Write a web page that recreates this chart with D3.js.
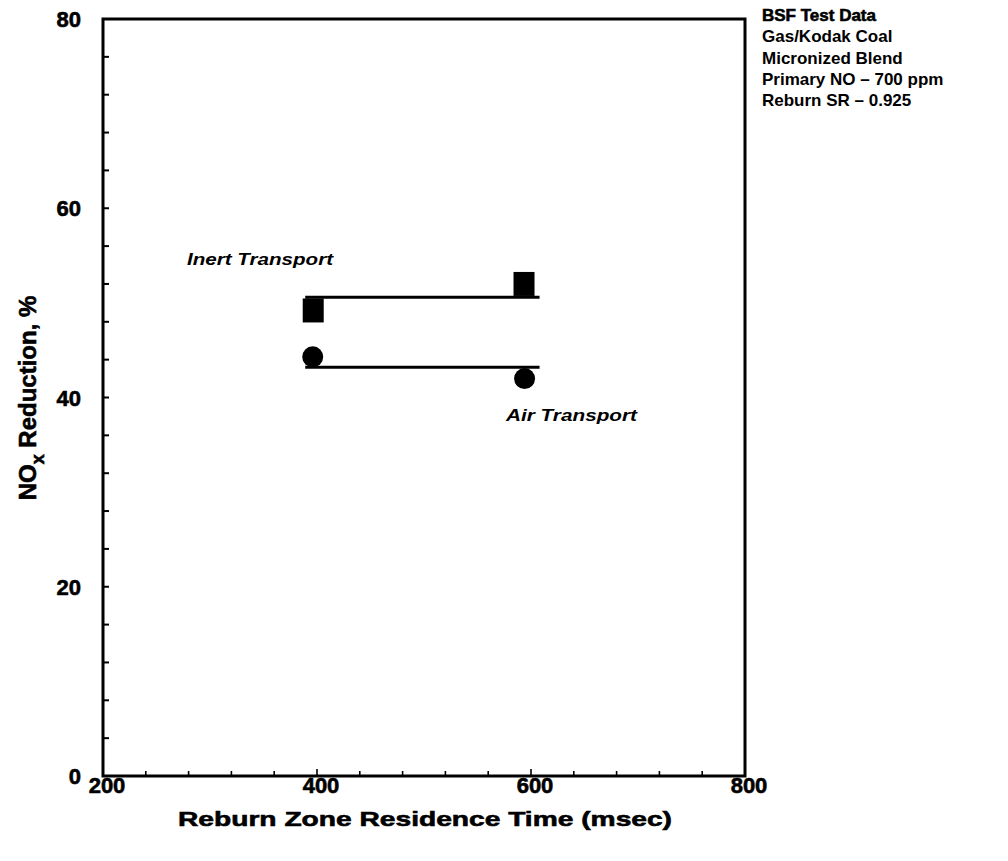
<!DOCTYPE html>
<html>
<head>
<meta charset="utf-8">
<script src="https://cdn.jsdelivr.net/npm/d3@7"></script>
<style>
  html, body { margin: 0; padding: 0; background: #fff; }
  svg text { font-family: "Liberation Sans", Arial, Helvetica, sans-serif; fill: #000; }
</style>
</head>
<body>
<svg id="chart" width="1008" height="861"></svg>
<script>
// Reburn residence time (msec) vs NOx reduction (%)
const inertTime = [396, 593];
const inertReduction = [49.2, 52.0];
const inertFit = [50.6, 50.6];
const airTime = [396, 594];
const airReduction = [44.3, 42.0];
const airFit = [43.2, 43.2];
const fitTime = [389, 608];

const xTicks = [200, 400, 600, 800];
const yTicks = [0, 20, 40, 60, 80];
const notes = ["BSF Test Data", "Gas/Kodak Coal", "Micronized Blend", "Primary NO \u2013 700 ppm", "Reburn SR \u2013 0.925"];

const svg = d3.select("#chart");
const plotLeft = 103, plotRight = 745, plotTop = 19, plotBottom = 776;

const x = d3.scaleLinear().domain([200, 800]).range([plotLeft, plotRight]);
const y = d3.scaleLinear().domain([0, 80]).range([plotBottom, plotTop]);

// minor ticks
const g = svg.append("g");
g.selectAll(".ytick").data(d3.range(4, 80, 4)).join("line")
  .attr("x1", plotLeft).attr("x2", plotLeft + 6)
  .attr("y1", d => y(d)).attr("y2", d => y(d))
  .attr("stroke", "#000").attr("stroke-width", 2);
g.selectAll(".xtick").data(d3.range(240, 800, 40)).join("line")
  .attr("x1", d => x(d)).attr("x2", d => x(d))
  .attr("y1", plotBottom).attr("y2", d => plotBottom - (d % 200 === 0 ? 7 : 5))
  .attr("stroke", "#000").attr("stroke-width", 1.6);

// frame
svg.append("rect")
  .attr("x", plotLeft).attr("y", plotTop)
  .attr("width", plotRight - plotLeft).attr("height", plotBottom - plotTop)
  .attr("fill", "none").attr("stroke", "#000").attr("stroke-width", 3);

// heavy text helper
function heavy(sel) {
  return sel.attr("font-weight", "bold").attr("stroke", "#000").attr("stroke-width", 0.6);
}

// tick labels
heavy(svg.selectAll(".yl").data(yTicks).join("text"))
  .attr("x", 81).attr("y", d => y(d) + 8)
  .attr("text-anchor", "end")
  .attr("font-size", 22)
  .text(d => d);
heavy(svg.selectAll(".xl").data(xTicks).join("text"))
  .attr("x", d => x(d) + 4).attr("y", 793)
  .attr("text-anchor", "middle")
  .attr("font-size", 22)
  .text(d => d);

// axis titles
heavy(svg.append("text"))
  .attr("x", 178).attr("y", 826)
  .attr("font-size", 21)
  .attr("textLength", 494).attr("lengthAdjust", "spacingAndGlyphs")
  .text("Reburn Zone Residence Time (msec)");

const yl = heavy(svg.append("text"))
  .attr("transform", "translate(36,398) rotate(-90)")
  .attr("text-anchor", "middle")
  .attr("font-size", 24);
yl.append("tspan").text("NO");
yl.append("tspan").attr("dy", 8).attr("font-size", 18).text("x");
yl.append("tspan").attr("dy", -8).text(" Reduction, %");

// fitted lines
const line = d3.line().x(d => x(d[0])).y(d => y(d[1]));
svg.append("path")
  .attr("d", line(fitTime.map((t, i) => [t, inertFit[i]])))
  .attr("fill", "none").attr("stroke", "#000").attr("stroke-width", 3);
svg.append("path")
  .attr("d", line(fitTime.map((t, i) => [t, airFit[i]])))
  .attr("fill", "none").attr("stroke", "#000").attr("stroke-width", 3);

// markers
svg.selectAll(".sq").data(inertTime.map((t, i) => [t, inertReduction[i]])).join("rect")
  .attr("x", d => x(d[0]) - 10).attr("y", d => y(d[1]) - 12)
  .attr("width", 21).attr("height", 24)
  .attr("fill", "#000");
svg.selectAll(".ci").data(airTime.map((t, i) => [t, airReduction[i]])).join("circle")
  .attr("cx", d => x(d[0])).attr("cy", d => y(d[1]))
  .attr("r", 10.5)
  .attr("fill", "#000");

// series labels
svg.append("text")
  .attr("x", 187).attr("y", 265)
  .attr("font-size", 17).attr("font-weight", "bold").attr("font-style", "italic")
  .attr("textLength", 146).attr("lengthAdjust", "spacingAndGlyphs")
  .text("Inert Transport");
svg.append("text")
  .attr("x", 506).attr("y", 421)
  .attr("font-size", 17).attr("font-weight", "bold").attr("font-style", "italic")
  .attr("textLength", 131).attr("lengthAdjust", "spacingAndGlyphs")
  .text("Air Transport");

// test condition notes
svg.selectAll(".note").data(notes).join("text")
  .attr("x", 762).attr("y", (d, i) => 21 + i * 21.3)
  .attr("font-size", 17).attr("font-weight", "bold")
  .attr("stroke", (d, i) => i === 0 ? "#000" : "none")
  .attr("stroke-width", 0.6)
  .text(d => d);
</script>
</body>
</html>
